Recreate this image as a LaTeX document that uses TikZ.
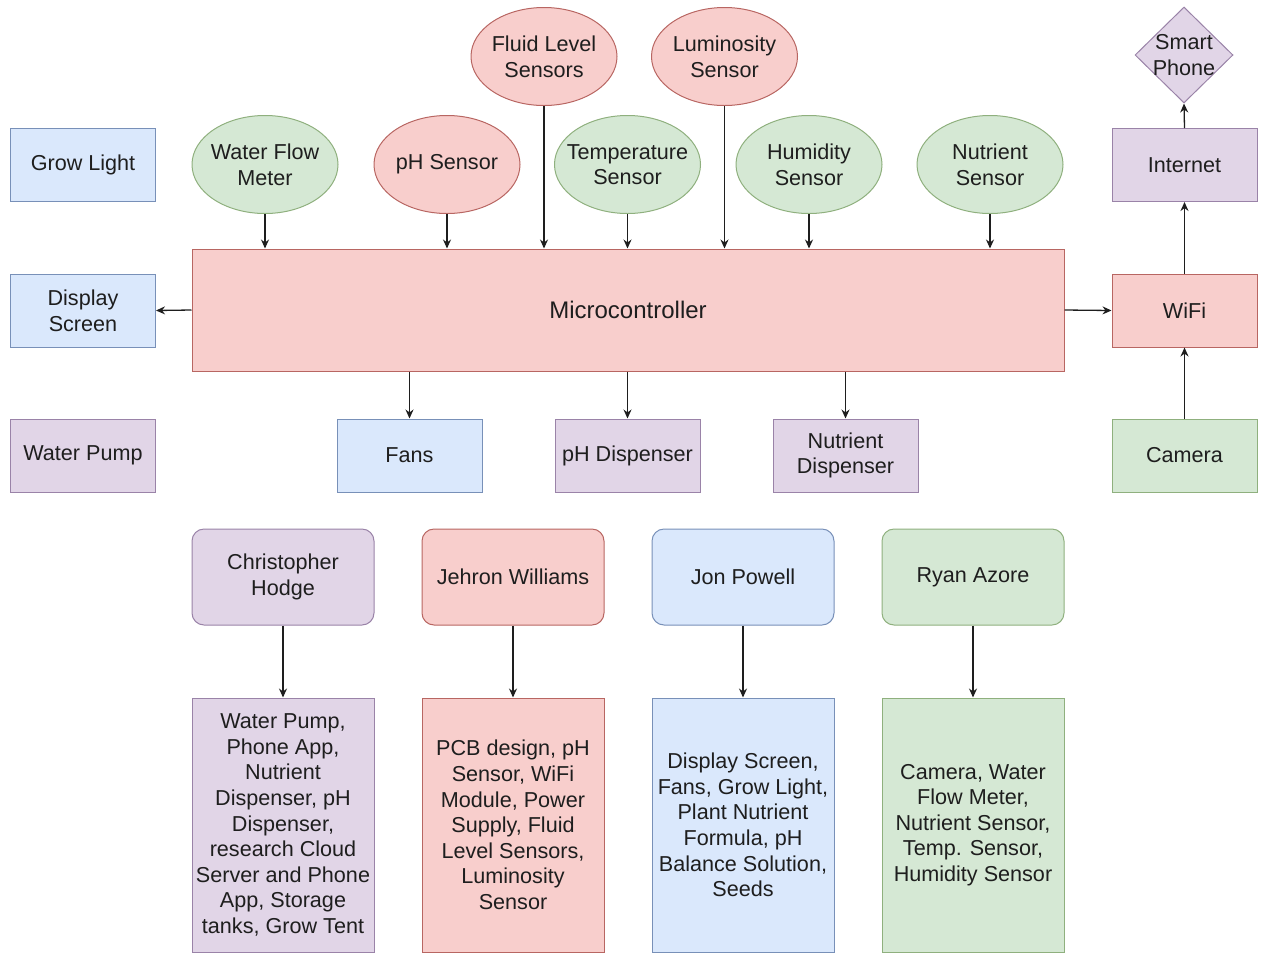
\documentclass[tikz,border=0pt]{standalone}
\usepackage{fontspec}
\setmainfont{Liberation Sans}
\usetikzlibrary{shapes.geometric,arrows.meta}
\definecolor{bluefill}{HTML}{DAE8FC}
\definecolor{bluedraw}{HTML}{7890B8}
\definecolor{greenfill}{HTML}{D5E8D4}
\definecolor{greendraw}{HTML}{8FB07E}
\definecolor{redfill}{HTML}{F8CECC}
\definecolor{reddraw}{HTML}{B86662}
\definecolor{purplefill}{HTML}{E1D5E7}
\definecolor{purpledraw}{HTML}{9A83A8}
\definecolor{txt}{HTML}{1E1E1E}
\definecolor{wire}{HTML}{1E1E1E}
\begin{document}
\begin{tikzpicture}[x=0.5pt,y=-0.5pt,
  every node/.style={font=\fontsize{10.8}{12.8}\selectfont, text=txt, align=center, inner sep=0pt, line width=0.5pt},
  cblue/.style={fill=bluefill, draw=bluedraw},
  cgreen/.style={fill=greenfill, draw=greendraw},
  cred/.style={fill=redfill, draw=reddraw},
  cpurple/.style={fill=purplefill, draw=purpledraw},
  box/.style={rectangle, minimum width=72.5pt, minimum height=36.5pt},
  sensor/.style={ellipse, minimum width=73pt, minimum height=49pt},
  person/.style={rectangle, rounded corners=6pt, minimum width=91pt, minimum height=48pt},
  duty/.style={rectangle, minimum width=91pt, minimum height=127pt},
  arr/.style={draw=wire, line width=0.65pt, -{Stealth[length=4.5pt,width=4pt]}}
]
\useasboundingbox (0,0) rectangle (1264,954);

% control unit
\node[rectangle, cred, minimum width=436pt, minimum height=61pt, font=\fontsize{12}{14}\selectfont] (mc) at (628,310) {Microcontroller};

% left column
\node[box, cblue] (grow) at (83,165) {Grow Light};
\node[box, cblue] (disp) at (83,310.5) {Display\\Screen};
\node[box, cpurple] (pump) at (83,455.5) {Water Pump};

% sensors (fixed-size ellipses, text laid on top)
\node[sensor, cgreen, label={center:{Water Flow\\Meter}}] (wfm) at (265,164.5) {};
\node[sensor, cred, label={center:{pH Sensor}}] (ph) at (447,164.5) {};
\node[sensor, cred, label={center:{Fluid Level\\Sensors}}] (fluid) at (544,56.5) {};
\node[sensor, cgreen, label={center:{Temperature\\Sensor}}] (temp) at (627.5,164.5) {};
\node[sensor, cred, label={center:{Luminosity\\Sensor}}] (lum) at (724.5,56.5) {};
\node[sensor, cgreen, label={center:{Humidity\\Sensor}}] (hum) at (809,164.5) {};
\node[sensor, cgreen, label={center:{Nutrient\\Sensor}}] (nut) at (990,164.5) {};

% actuators
\node[box, cblue] (fans) at (409.5,455.5) {Fans};
\node[box, cpurple] (phd) at (627.5,455.5) {pH Dispenser};
\node[box, cpurple] (nd) at (845.5,455.5) {Nutrient\\Dispenser};

% right column
\node[diamond, cpurple, minimum width=49pt, minimum height=48pt, label={center:{Smart\\Phone}}] (phone) at (1184,55) {};
\node[box, cpurple] (inet) at (1184.5,165) {Internet};
\node[box, cred] (wifi) at (1184.5,310.5) {WiFi};
\node[box, cgreen] (cam) at (1184.5,455.5) {Camera};

% team members and their parts
\node[person, cpurple] (ch) at (283,577) {Christopher\\Hodge};
\node[person, cred] (jw) at (513,577) {Jehron Williams};
\node[person, cblue] (jp) at (743,577) {Jon Powell};
\node[person, cgreen] (ra) at (973,577) {Ryan Azore};

\node[duty, cpurple] (chd) at (283,825) {Water Pump,\\Phone App,\\Nutrient\\Dispenser, pH\\Dispenser,\\research Cloud\\Server and Phone\\App, Storage\\tanks, Grow Tent};
\node[duty, cred] (jwd) at (513,825) {PCB design, pH\\Sensor, WiFi\\Module, Power\\Supply, Fluid\\Level Sensors,\\Luminosity\\Sensor};
\node[duty, cblue] (jpd) at (743,825) {Display Screen,\\Fans, Grow Light,\\Plant Nutrient\\Formula, pH\\Balance Solution,\\Seeds};
\node[duty, cgreen] (rad) at (973,825) {Camera, Water\\Flow Meter,\\Nutrient Sensor,\\Temp. Sensor,\\Humidity Sensor};

% sensor inputs
\foreach \s in {wfm,ph,fluid,temp,lum,hum,nut}
  \draw[arr] (\s.south) -- (\s.south |- mc.north);

% outputs
\draw[arr] (mc.west) -- (disp.east);
\draw[arr] (mc.east) -- (wifi.west);
\draw[arr] (fans.north |- mc.south) -- (fans.north);
\draw[arr] (phd.north |- mc.south) -- (phd.north);
\draw[arr] (nd.north |- mc.south) -- (nd.north);

% network path
\draw[arr] (cam.north) -- (wifi.south);
\draw[arr] (wifi.north) -- (inet.south);
\draw[arr] (inet.north) -- (phone.south);

% assignments
\draw[arr] (ch.south) -- (chd.north);
\draw[arr] (jw.south) -- (jwd.north);
\draw[arr] (jp.south) -- (jpd.north);
\draw[arr] (ra.south) -- (rad.north);
\end{tikzpicture}
\end{document}
